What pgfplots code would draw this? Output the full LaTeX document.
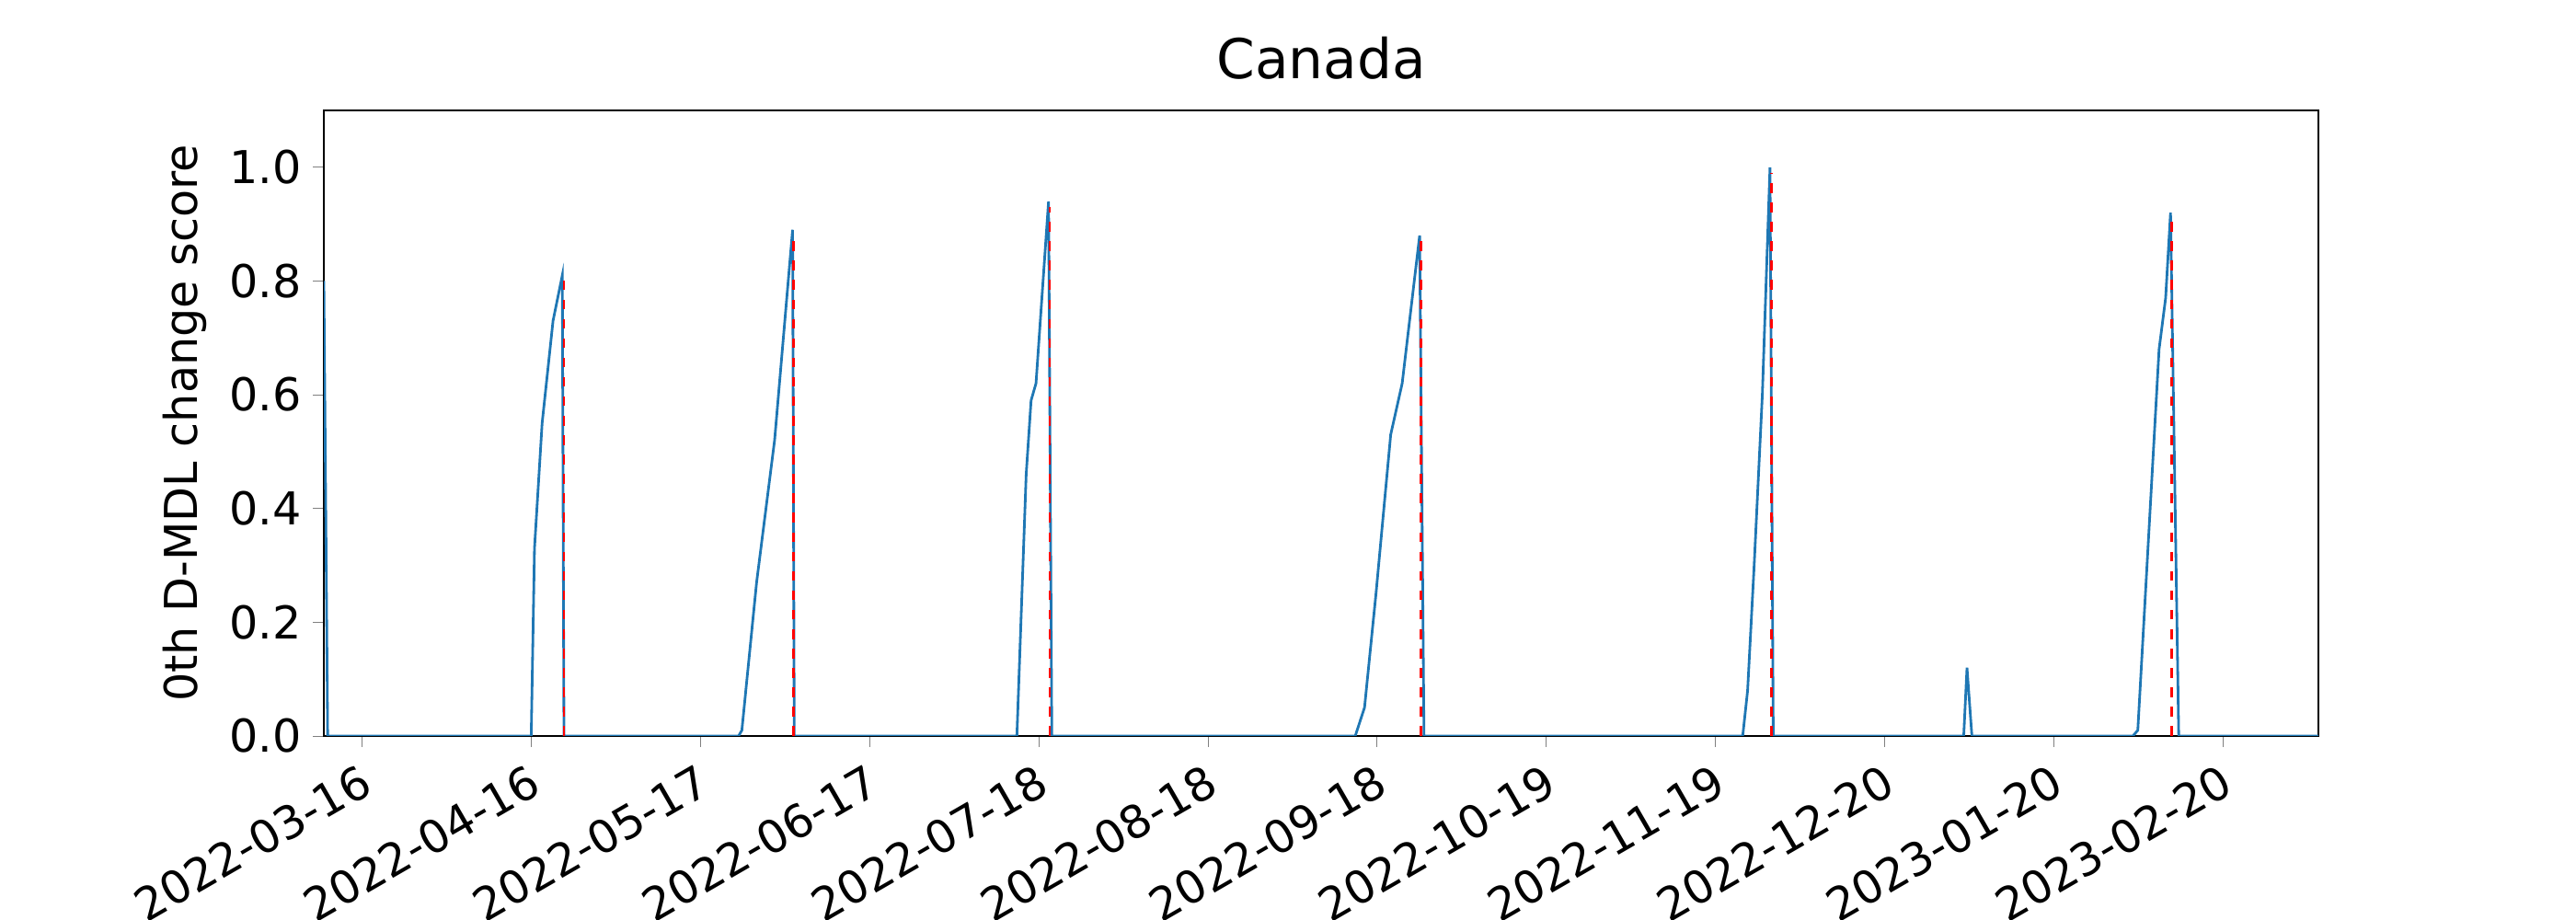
\documentclass[border=0pt]{standalone}
\usepackage{pgfplots}
\pgfplotsset{compat=1.18}
\usepackage{fontspec}
\setmainfont{DejaVu Sans}
\begin{document}
\begin{tikzpicture}
\path[use as bounding box] (0,0) rectangle (28,10);
\begin{axis}[at={(3.52cm,2cm)},anchor=south west,scale only axis,
 width=21.68cm,height=6.8cm,
 xmin=-7,xmax=358.5,ymin=0,ymax=1.1,
 xtick={0,31,62,93,124,155,186,217,248,279,310,341},
 xticklabels={2022-03-16,2022-04-16,2022-05-17,2022-06-17,2022-07-18,2022-08-18,2022-09-18,2022-10-19,2022-11-19,2022-12-20,2023-01-20,2023-02-20},
 xticklabel style={rotate=30,anchor=north east,font=\fontsize{14}{16}\selectfont},
 ytick={0,0.2,0.4,0.6,0.8,1.0},
 yticklabel style={font=\fontsize{14}{16}\selectfont},
 y tick label style={/pgf/number format/fixed,/pgf/number format/fixed zerofill,/pgf/number format/precision=1},
 /pgf/number format/assume math mode=true,
 ylabel={0th D-MDL change score},ylabel style={font=\fontsize{14}{16}\selectfont},
 title={Canada},title style={font=\fontsize{17}{20}\selectfont},
 tick align=outside,major tick length=0.12cm,
 xtick pos=bottom,ytick pos=left,axis line style={line width=0.4pt}]
\addplot[color={rgb,255:red,31;green,119;blue,180},line width=0.8pt] coordinates {
(-7,0.8)(-6.3,0)(31,0)(31.6,0.33)(33,0.55)(35,0.73)(36.7,0.81)(37,0)
(69,0)(69.6,0.01)(72.3,0.27)(75.6,0.52)(78.9,0.89)(79.2,0)
(120,0)(121.7,0.46)(122.6,0.59)(123.5,0.62)(125.8,0.94)(126.4,0)
(182,0)(183.7,0.05)(185.8,0.25)(188.5,0.53)(190.6,0.62)(193.8,0.88)(194.6,0)
(253,0)(253.9,0.08)(255.1,0.3)(256.6,0.6)(258,1.0)(258.6,0)
(293.5,0)(294.1,0.12)(295,0)
(324.5,0)(325.4,0.01)(329.3,0.68)(330.5,0.77)(331.4,0.92)(332.9,0)(358.5,0)};
\addplot[red,dashed,line width=0.8pt] coordinates {(37,0)(37,0.8)};
\addplot[red,dashed,line width=0.8pt] coordinates {(79,0)(79,0.88)};
\addplot[red,dashed,line width=0.8pt] coordinates {(126,0)(126,0.93)};
\addplot[red,dashed,line width=0.8pt] coordinates {(194.1,0)(194.1,0.87)};
\addplot[red,dashed,line width=0.8pt] coordinates {(258.3,0)(258.3,0.99)};
\addplot[red,dashed,line width=0.8pt] coordinates {(331.6,0)(331.6,0.91)};
\end{axis}
\end{tikzpicture}
\end{document}
